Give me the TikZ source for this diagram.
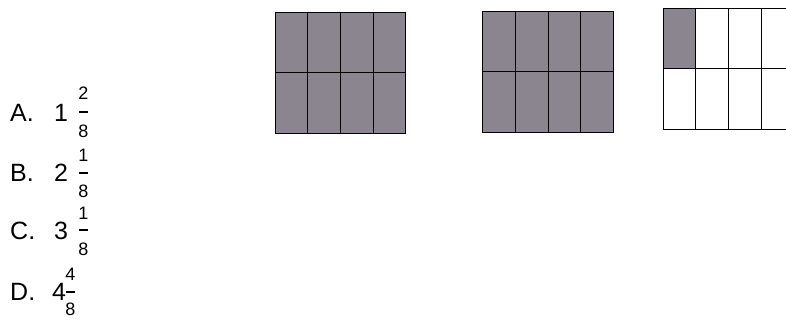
\documentclass[tikz,border=0pt]{standalone}
\usepackage{fontspec}
\setmainfont{Liberation Sans}
\definecolor{cellgray}{RGB}{138,133,143}
\begin{document}
\begin{tikzpicture}[x=1pt,y=-1pt,
  lbl/.style={anchor=base west,inner sep=0pt,font=\fontsize{25}{28}\selectfont},
  frd/.style={anchor=base,inner sep=0pt,font=\fontsize{18}{20}\selectfont},
  gridline/.style={draw=black,line width=1pt},
  barline/.style={line width=1.3pt}]
\useasboundingbox (0,0) rectangle (786,320);
\clip (0,0) rectangle (786,320);
% grid 1
\fill[cellgray] (275,13) rectangle (405,134);
\draw[gridline] (275,13) rectangle (405,134);
\foreach \x in {307,340,373} \draw[gridline] (\x,13) -- (\x,134);
\draw[gridline] (275,73) -- (405,73);
% grid 2
\fill[cellgray] (482,12) rectangle (613,133);
\draw[gridline] (482,12) rectangle (613,133);
\foreach \x in {515,548,580} \draw[gridline] (\x,12) -- (\x,133);
\draw[gridline] (482,72) -- (613,72);
% grid 3
\fill[cellgray] (663,9) rectangle (695,69);
\draw[gridline] (663,9) rectangle (794,130);
\foreach \x in {695,728,761} \draw[gridline] (\x,9) -- (\x,130);
\draw[gridline] (663,69) -- (794,69);
% options
\node[lbl] (la) at (10,122) {A.};
\node[lbl] (wa) at (54,122) {1};
\draw[barline] (79,112) -- (88,112);
\node[frd] (na) at (83.5,100) {2};
\node[frd] (da) at (83.5,138) {8};
\node[lbl] (lb) at (10,182) {B.};
\node[lbl] (wb) at (54,182) {2};
\draw[barline] (79,173) -- (88,173);
\node[frd] (nb) at (83.5,162) {1};
\node[frd] (db) at (83.5,198) {8};
\node[lbl] (lc) at (10,240) {C.};
\node[lbl] (wc) at (54,240) {3};
\draw[barline] (79,230) -- (88,230);
\node[frd] (nc) at (83.5,220) {1};
\node[frd] (dc) at (83.5,255) {8};
\node[lbl] (ld) at (10,300) {D.};
\node[lbl] (wd) at (52,300) {4};
\draw[barline] (66,292) -- (75,292);
\node[frd] (nd) at (70.5,280) {4};
\node[frd] (dd) at (70.5,315) {8};
\end{tikzpicture}
\end{document}
